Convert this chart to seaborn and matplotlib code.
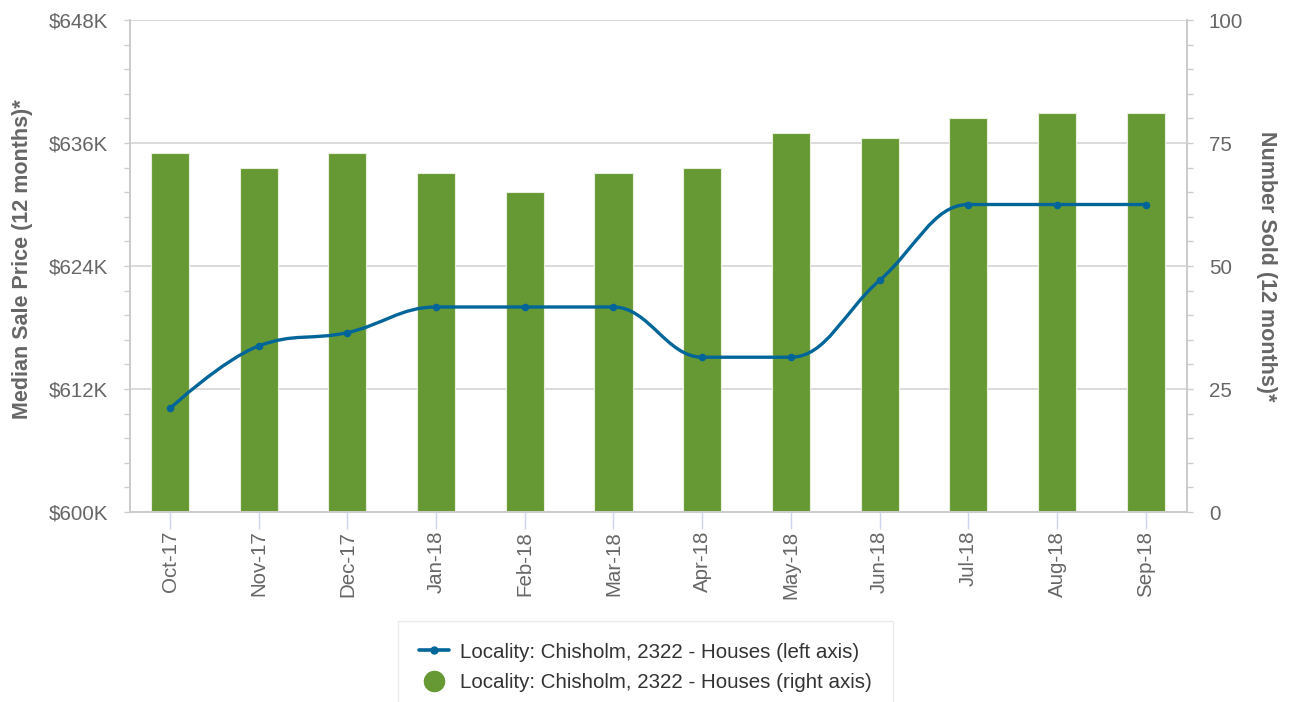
import matplotlib
matplotlib.use("Agg")
import matplotlib.pyplot as plt
import seaborn as sns
from matplotlib.path import Path
from matplotlib.patches import PathPatch
from matplotlib.lines import Line2D
from matplotlib.ticker import MultipleLocator, FuncFormatter

# Données
months = ["Oct-17", "Nov-17", "Dec-17", "Jan-18", "Feb-18", "Mar-18",
          "Apr-18", "May-18", "Jun-18", "Jul-18", "Aug-18", "Sep-18"]
median_price = [610100, 616200, 617500, 620000, 620000, 620000,
                615100, 615100, 622600, 630000, 630000, 630000]
number_sold = [73, 70, 73, 69, 65, 69, 70, 77, 76, 80, 81, 81]

series_label_left = "Locality: Chisholm, 2322 - Houses (left axis)"
series_label_right = "Locality: Chisholm, 2322 - Houses (right axis)"

GREEN = "#669933"
BLUE = "#006699"
GREY_TXT = "#666666"
AXIS_GREY = "#cccccc"


def spline_path(xs, ys, smoothing=1.5):
    """Courbe lissée façon 'spline' (points de contrôle de Bézier)."""
    denom = smoothing + 1
    n = len(xs)
    lc = [None] * n
    rc = [None] * n
    for i in range(1, n - 1):
        px, py = xs[i], ys[i]
        lx, ly = xs[i - 1], ys[i - 1]
        nx, ny = xs[i + 1], ys[i + 1]
        lcx = (smoothing * px + lx) / denom
        lcy = (smoothing * py + ly) / denom
        rcx = (smoothing * px + nx) / denom
        rcy = (smoothing * py + ny) / denom
        if rcx != lcx:
            corr = (rcy - lcy) * (rcx - px) / (rcx - lcx) + py - rcy
            lcy += corr
            rcy += corr
        if lcy > ly and lcy > py:
            lcy = max(ly, py)
            rcy = 2 * py - lcy
        elif lcy < ly and lcy < py:
            lcy = min(ly, py)
            rcy = 2 * py - lcy
        if rcy > ny and rcy > py:
            rcy = max(ny, py)
            lcy = 2 * py - rcy
        elif rcy < ny and rcy < py:
            rcy = min(ny, py)
            lcy = 2 * py - rcy
        lc[i] = (lcx, lcy)
        rc[i] = (rcx, rcy)
    verts = [(xs[0], ys[0])]
    codes = [Path.MOVETO]
    for i in range(1, n):
        c1 = rc[i - 1] if rc[i - 1] else (xs[i - 1], ys[i - 1])
        c2 = lc[i] if lc[i] else (xs[i], ys[i])
        verts += [c1, c2, (xs[i], ys[i])]
        codes += [Path.CURVE4] * 3
    return Path(verts, codes)


sns.set_style("white")
plt.rcParams["font.family"] = ["Liberation Sans", "DejaVu Sans"]

fig = plt.figure(figsize=(12.9, 7.02), dpi=100)
ax = fig.add_axes([130 / 1290, 1 - 512 / 702, 1057 / 1290, 492 / 702])
ax2 = ax.twinx()

# Barres (axe droit)
sns.barplot(x=months, y=number_sold, ax=ax2, color=GREEN, width=0.43,
            edgecolor="#e8f0dd", linewidth=0.8, saturation=1)
ax2.set_ylim(0, 100)
ax2.yaxis.set_major_locator(MultipleLocator(25))
ax2.yaxis.set_minor_locator(MultipleLocator(5))
ax2.set_axisbelow(True)
ax2.grid(True, axis="y", color="#d4d4d4", linewidth=1.2)
ax2.grid(False, axis="x")
ax2.set_ylabel("Number Sold (12 months)*", rotation=270, fontsize=15.5,
               fontweight="bold", color=GREY_TXT, va="center")
ax2.yaxis.set_label_coords((1267 - 130) / 1057, 0.5)

# Ligne (axe gauche) au-dessus des barres
ax.set_zorder(ax2.get_zorder() + 1)
ax.patch.set_visible(False)
xs = list(range(len(months)))
ax.add_patch(PathPatch(spline_path(xs, median_price), facecolor="none",
                       edgecolor=BLUE, linewidth=2.4, capstyle="round",
                       joinstyle="round"))
sns.scatterplot(x=xs, y=median_price, ax=ax, color=BLUE, s=30,
                edgecolor=BLUE, linewidth=0, zorder=3)
ax.set_ylim(600000, 648000)
ax.yaxis.set_major_locator(MultipleLocator(12000))
ax.yaxis.set_minor_locator(MultipleLocator(2400))
ax.yaxis.set_major_formatter(FuncFormatter(lambda v, p: f"${v / 1000:.0f}K"))
ax.grid(False)
ax.set_ylabel("Median Sale Price (12 months)*", fontsize=15.5,
              fontweight="bold", color=GREY_TXT)
ax.yaxis.set_label_coords((33 - 130) / 1057, (512 - 259) / 492)

ax.set_xlim(-0.451, 11.466)
ax.set_xticks(xs)
ax.set_xticklabels(months, rotation=90)
ax2.set_xlabel("")

for a in (ax, ax2):
    for side in ("left", "right", "bottom"):
        a.spines[side].set_color(AXIS_GREY)
        a.spines[side].set_linewidth(1.3)
    a.spines["top"].set_visible(False)

ax.tick_params(axis="y", which="both", left=True, length=4.3, width=1,
               color=AXIS_GREY, labelsize=14.8, labelcolor=GREY_TXT, pad=11.5)
ax2.tick_params(axis="y", which="both", right=True, length=4.3, width=1,
                color=AXIS_GREY, labelsize=14.8, labelcolor=GREY_TXT, pad=11.5)
ax.tick_params(axis="x", bottom=True, length=12, width=1, color="#ccd6eb",
               labelsize=14.8, labelcolor=GREY_TXT, pad=1.5)

# Légende
handles = [
    Line2D([0], [0], color=BLUE, linewidth=2.6, marker="o", markersize=5),
    Line2D([0], [0], color=GREEN, linestyle="none", marker="o", markersize=14.5),
]
leg = fig.legend(handles, [series_label_left, series_label_right],
                 loc="upper center", bbox_to_anchor=(645.5 / 1290, 1 - 621 / 702),
                 fontsize=14.8, frameon=True, fancybox=False, borderpad=1.05,
                 labelspacing=0.55, handlelength=1.46, handletextpad=0.53,
                 borderaxespad=0)
leg.get_frame().set_edgecolor("#e6e6e6")
leg.get_frame().set_linewidth(1)
for t in leg.get_texts():
    t.set_color("#333333")

fig.savefig("out.png", dpi=100)
